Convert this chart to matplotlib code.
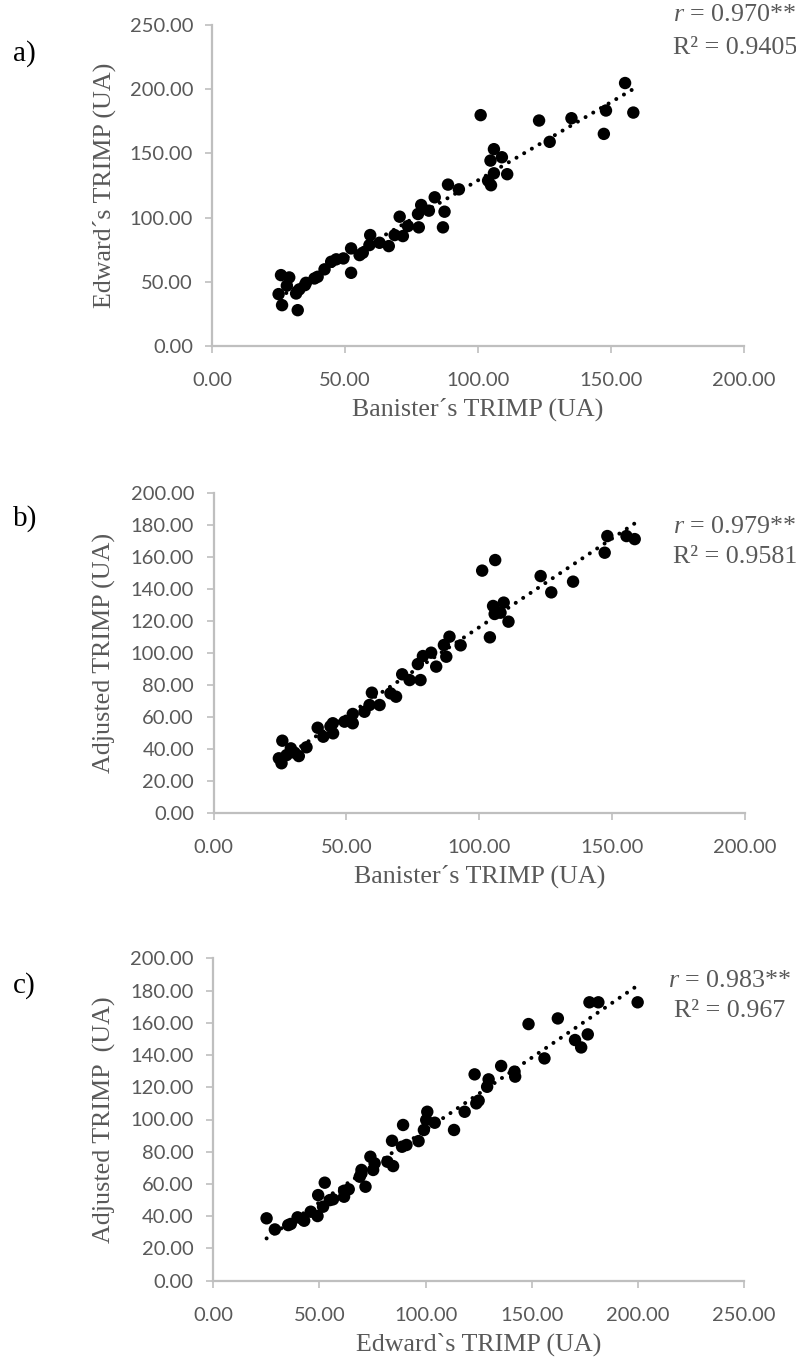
import matplotlib
matplotlib.use('Agg')
import matplotlib.pyplot as plt
import numpy as np

# a) Banister vs Edward
banister_a = [155.4, 158.5, 148.2, 147.4, 135.2, 123.0, 127.0, 101.0, 106.0, 109.0, 104.7, 111.0, 106.0,
              103.8, 104.9, 88.7, 92.8, 83.7, 78.6, 81.5, 87.4, 86.8, 77.4, 70.5, 77.7, 73.6, 68.6, 71.7,
              59.4, 62.9, 66.4, 59.1, 56.6, 52.2, 52.2, 49.3, 46.6, 44.7, 42.2, 39.6, 35.2, 32.7, 31.5,
              32.1, 25.8, 28.9, 24.9, 26.2, 28.0, 38.4, 55.4, 34.8]
edward_a = [204.8, 181.8, 183.4, 165.2, 177.4, 175.6, 159.0, 179.8, 153.3, 147.0, 144.4, 133.8, 134.5,
            128.8, 125.2, 125.7, 122.0, 115.8, 109.8, 105.4, 104.6, 92.4, 102.8, 100.7, 92.4, 93.4, 86.4, 85.6,
            86.4, 80.4, 77.8, 78.6, 72.6, 76.0, 57.0, 68.2, 67.5, 65.6, 59.7, 53.9, 49.2, 44.1, 40.9,
            27.9, 55.2, 53.4, 40.4, 31.8, 47.0, 52.6, 70.8, 47.4]

# b) Banister vs Adjusted
banister_b = [148.2, 158.5, 155.4, 147.2, 106.0, 101.1, 123.1, 135.3, 127.1, 109.2, 105.2, 105.8, 108.0,
              111.0, 104.0, 88.8, 93.0, 86.7, 87.6, 81.9, 78.8, 76.9, 83.8, 71.0, 73.8, 77.9, 66.6, 68.7,
              59.6, 62.5, 58.7, 56.8, 52.4, 52.4, 49.3, 44.9, 39.2, 25.9, 25.6, 24.6, 29.1, 32.1, 35.0,
              41.3, 45.0, 44.0, 30.5, 27.5]
adjusted_b = [172.9, 171.0, 172.9, 162.5, 157.9, 151.3, 147.9, 144.4, 137.7, 131.3, 129.2, 124.2, 125.0,
              119.4, 109.6, 110.0, 104.6, 104.8, 97.5, 100.0, 97.9, 92.9, 91.3, 86.5, 82.9, 82.9, 74.6, 72.5,
              75.0, 67.3, 67.3, 63.1, 61.7, 55.9, 56.9, 55.9, 53.1, 45.0, 30.9, 34.0, 40.2, 35.4, 40.9,
              47.5, 49.6, 54.0, 37.5, 36.0]

# c) Edward vs Adjusted
edward_c = [199.9, 177.2, 181.4, 162.3, 148.5, 176.4, 170.4, 173.3, 156.0, 135.6, 141.9, 142.2, 123.1,
            129.7, 129.0, 118.4, 123.9, 125.0, 113.4, 100.8, 100.3, 104.3, 99.2, 96.7, 89.4, 88.9, 91.0,
            84.2, 82.0, 84.7, 74.0, 75.3, 69.8, 69.0, 71.7, 52.5, 49.4, 56.4, 61.6, 63.8, 51.7, 49.1,
            45.9, 42.8, 39.7, 36.5, 25.1, 29.0, 54.9, 76.0, 61.6, 69.8, 42.3, 35.3]
adjusted_c = [172.7, 172.7, 172.7, 162.7, 159.2, 152.8, 149.3, 144.7, 137.9, 133.2, 129.7, 126.6, 128.0,
              124.9, 120.3, 104.8, 110.0, 111.7, 93.5, 104.8, 99.7, 98.0, 93.5, 86.6, 96.6, 83.1, 84.2,
              86.8, 73.8, 71.1, 76.9, 68.7, 68.7, 64.5, 58.3, 60.8, 53.1, 50.5, 52.1, 56.7, 45.9, 40.1,
              42.8, 37.2, 39.3, 35.2, 38.7, 31.8, 50.0, 72.8, 55.8, 66.6, 38.0, 34.5]

panels = [
    dict(x=banister_a, y=edward_a, letter='a)', r='0.970**', r2='0.9405',
         xlabel='Banister\u00b4s TRIMP (UA)', ylabel='Edward\u00b4s TRIMP (UA)',
         xmax=200, xstep=50, ymax=250, ystep=50),
    dict(x=banister_b, y=adjusted_b, letter='b)', r='0.979**', r2='0.9581',
         xlabel='Banister\u00b4s TRIMP (UA)', ylabel='Adjusted TRIMP (UA)',
         xmax=200, xstep=50, ymax=200, ystep=20),
    dict(x=edward_c, y=adjusted_c, letter='c)', r='0.983**', r2='0.967',
         xlabel='Edward`s TRIMP (UA)', ylabel='Adjusted TRIMP  (UA)',
         xmax=250, xstep=50, ymax=200, ystep=20),
]

W, H = 796, 1362
# axes boxes in pixels: left, top, right, bottom
boxes = [(212.5, 25, 743.5, 346), (213.5, 492.7, 745, 812.7), (213.3, 958.3, 744, 1280.7)]
letter_y = [54, 519, 986]
stat_y = [(15, 48), (527, 557), (981, 1011)]
stat_x = [735, 735, 730]

GRAY = '#595959'
AXC = '#bfbfbf'
SERIF = 'Liberation Serif'

plt.rcParams['mathtext.fontset'] = 'custom'
plt.rcParams['mathtext.it'] = 'Liberation Serif:italic'
plt.rcParams['mathtext.rm'] = 'Liberation Serif'

fig = plt.figure(figsize=(W / 100, H / 100), dpi=100)

for p, (l, t, r, b), ly, (sy1, sy2), sx in zip(panels, boxes, letter_y, stat_y, stat_x):
    ax = fig.add_axes([l / W, 1 - b / H, (r - l) / W, (b - t) / H])
    x = np.array(p['x'])
    y = np.array(p['y'])
    k, c = np.polyfit(x, y, 1)
    xs = np.array([x.min(), x.max()])
    ax.plot(xs, k * xs + c, color='black', lw=2.9, linestyle=(0, (0.01, 2.2)),
            dash_capstyle='round', zorder=2)
    ax.scatter(x, y, s=80, color='black', edgecolors='none', zorder=3)

    ax.set_xlim(0, p['xmax'])
    ax.set_ylim(0, p['ymax'])
    ax.set_xticks(np.arange(0, p['xmax'] + 1, p['xstep']))
    ax.set_yticks(np.arange(0, p['ymax'] + 1, p['ystep']))
    ax.xaxis.set_major_formatter(matplotlib.ticker.FormatStrFormatter('%.2f'))
    ax.yaxis.set_major_formatter(matplotlib.ticker.FormatStrFormatter('%.2f'))
    for s in ['top', 'right']:
        ax.spines[s].set_visible(False)
    for s in ['left', 'bottom']:
        ax.spines[s].set_color(AXC)
        ax.spines[s].set_linewidth(1.6)
    ax.tick_params(axis='both', direction='out', length=5, width=1.2, color=AXC,
                   labelcolor=GRAY, labelsize=14.5)
    ax.tick_params(axis='y', pad=9)
    ax.tick_params(axis='x', pad=14)
    for lab in ax.get_xticklabels() + ax.get_yticklabels():
        lab.set_fontfamily('Lato')
    ax.set_xlabel(p['xlabel'], fontfamily=SERIF, fontsize=18.7, color=GRAY)
    ax.set_ylabel(p['ylabel'], fontfamily=SERIF, fontsize=18.7, color=GRAY)
    ax.xaxis.set_label_coords(0.5, -52 / (b - t))
    ax.yaxis.set_label_coords(-(l - 116) / (r - l), 0.5)
    ax.patch.set_alpha(0)

    fig.text(13 / W, 1 - ly / H, p['letter'], fontfamily=SERIF, fontsize=21,
             color='black', ha='left', va='center')
    fig.text(sx / W, 1 - sy1 / H, r'$\mathit{r}$ = ' + p['r'], fontfamily=SERIF, fontsize=18.7,
             color=GRAY, ha='center', va='center')
    fig.text(sx / W, 1 - sy2 / H, 'R\u00b2 = ' + p['r2'], fontfamily=SERIF, fontsize=18.7,
             color=GRAY, ha='center', va='center')

fig.savefig('out.png', dpi=100)
